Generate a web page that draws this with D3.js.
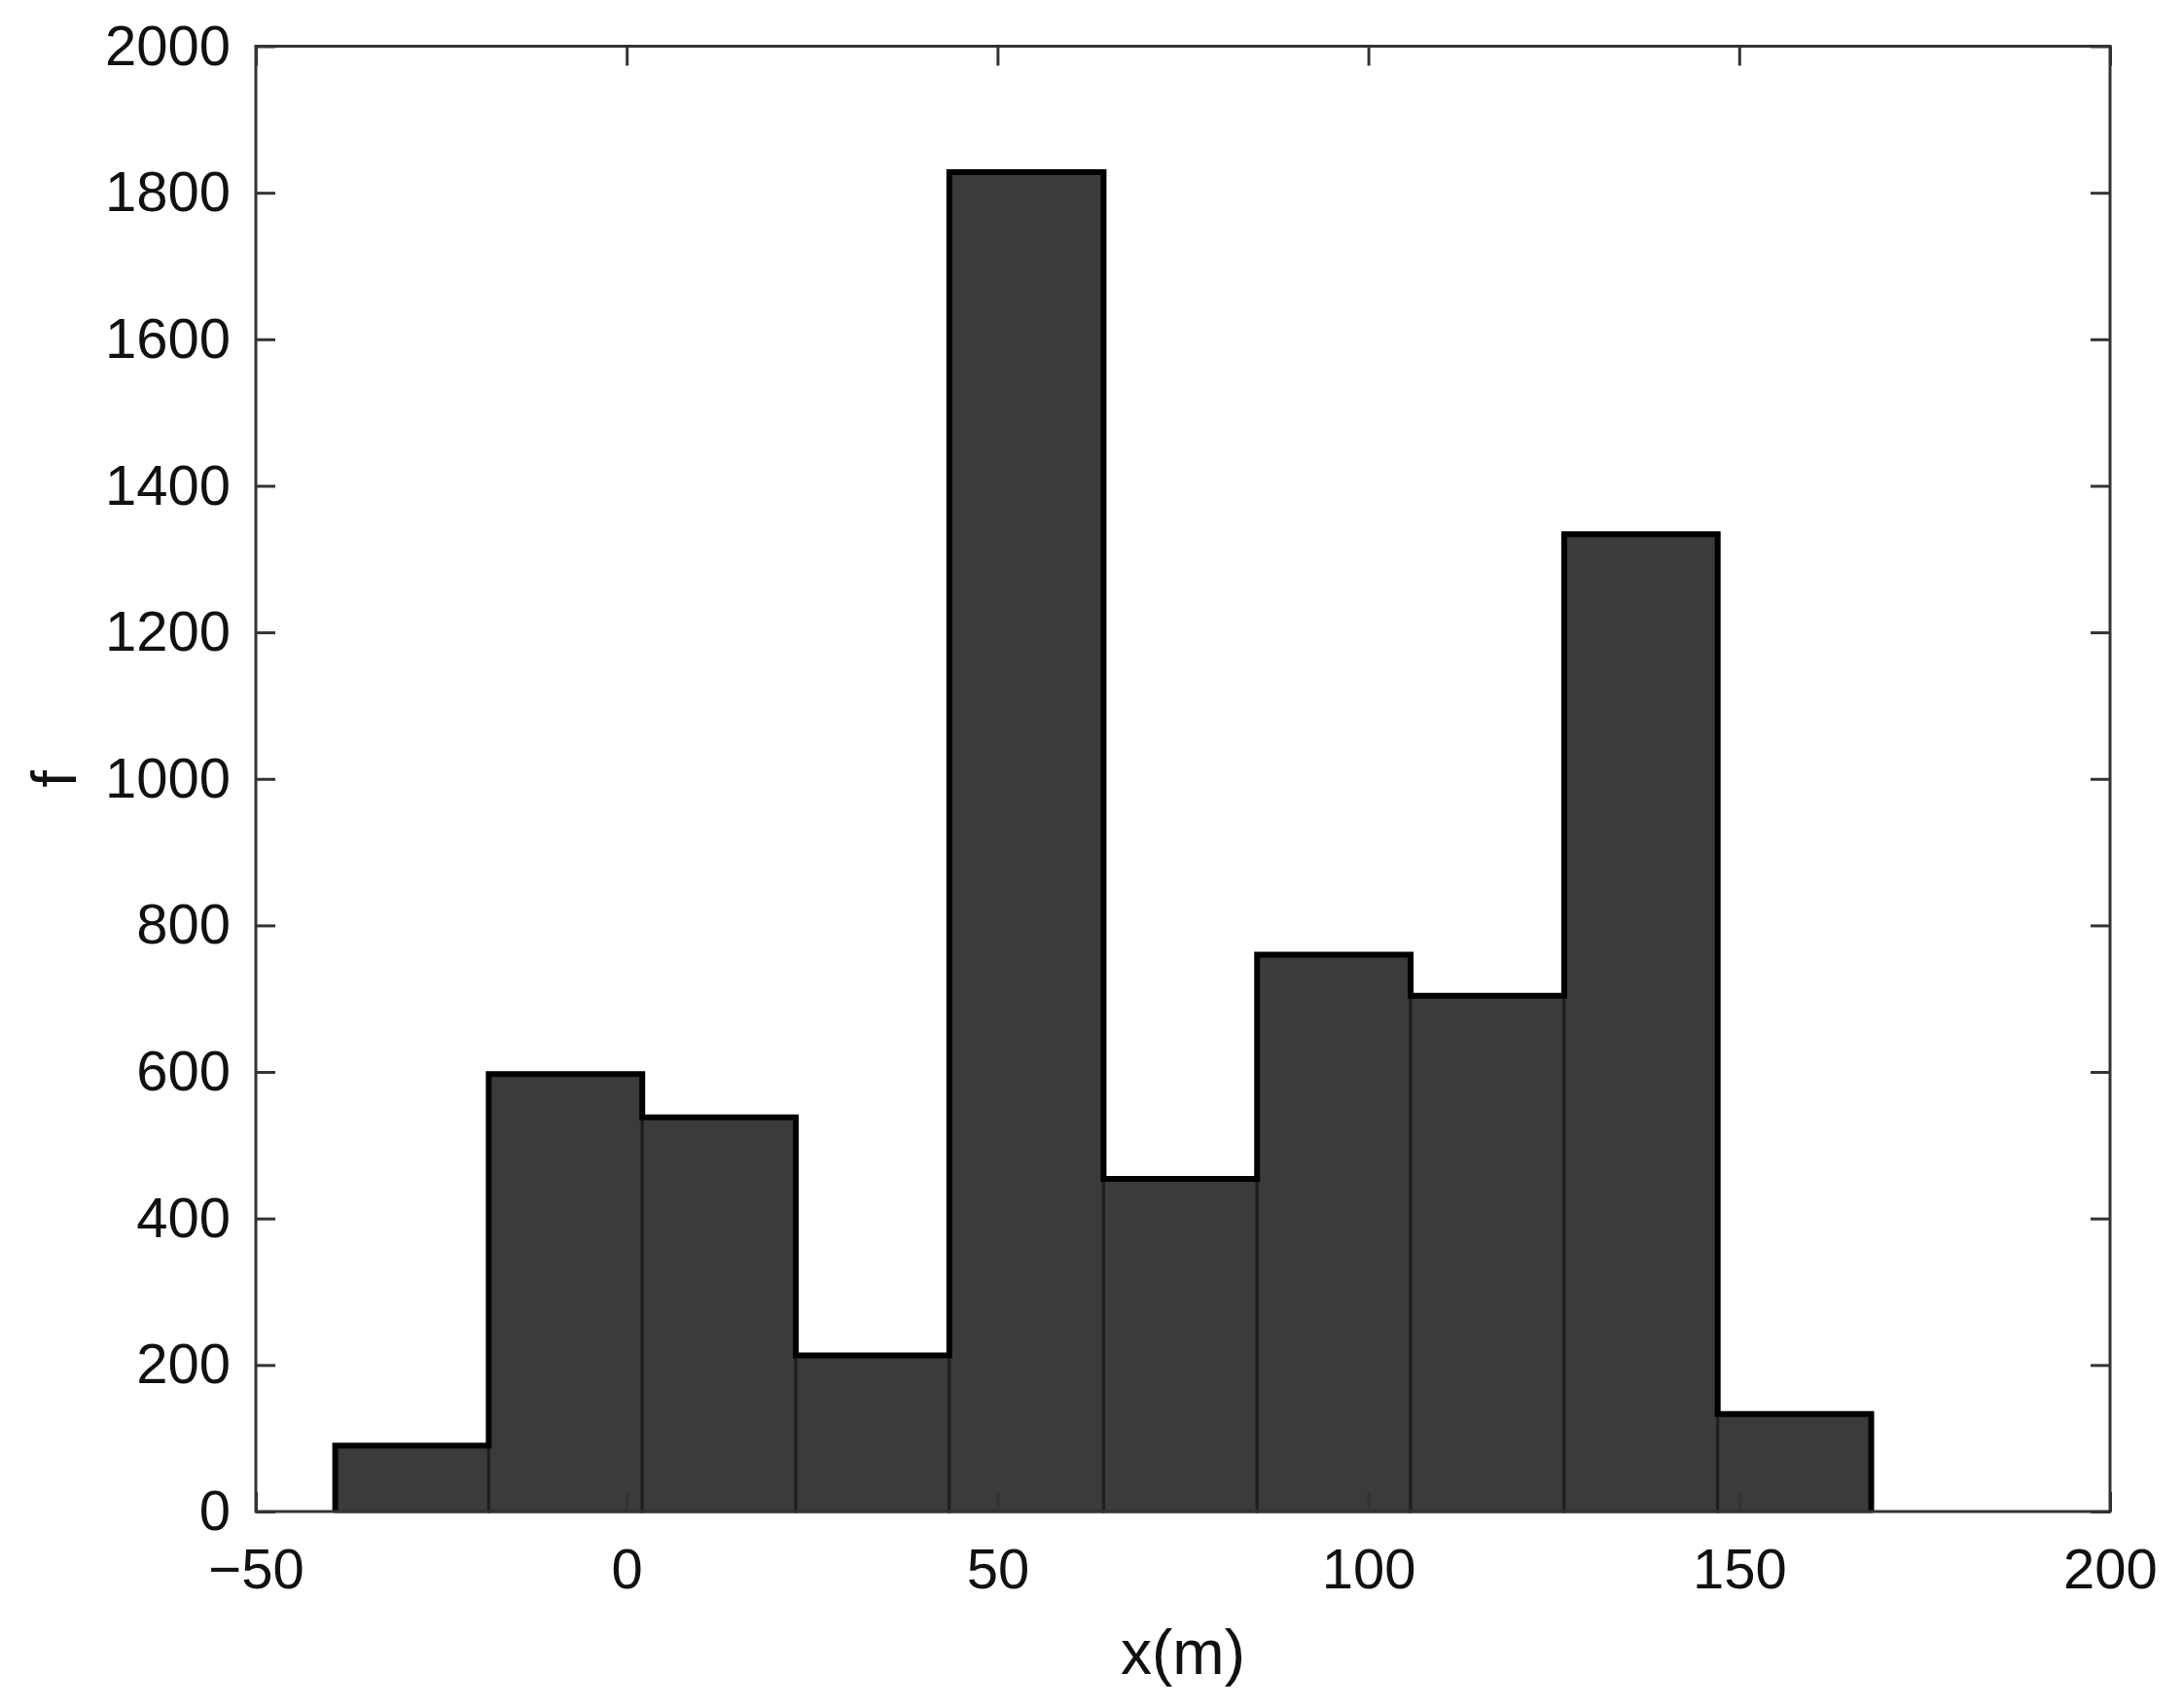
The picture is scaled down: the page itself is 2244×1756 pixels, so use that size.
<!DOCTYPE html>
<html>
<head>
<meta charset="utf-8">
<script src="https://cdn.jsdelivr.net/npm/d3@7"></script>
<style>
    body { margin: 0; background: #fff; }
    text { font-family: "Liberation Sans", Arial, sans-serif; fill: #111; }
</style>
</head>
<body>
<svg width="2244" height="1756"></svg>
<script>
// histogram bins
const binEdges = [-39.3, -18.6, 2.1, 22.8, 43.5, 64.3, 85.0, 105.7, 126.4, 147.1, 167.8];
const counts = [90, 597, 538, 213, 1828, 454, 760, 704, 1334, 133];
const xTicks = [-50, 0, 50, 100, 150, 200];
const yTicks = [0, 200, 400, 600, 800, 1000, 1200, 1400, 1600, 1800, 2000];
const xTitle = 'x(m)';
const yTitle = 'f';

let svg = d3.select('svg');
let side = {width: +svg.attr('width'), height: +svg.attr('height')};
let margin = {left: 263, right: 75, top: 47.5, bottom: 202};

svg.append('rect').attr('width', side.width).attr('height', side.height).attr('fill', '#fff');

let x = d3.scaleLinear().domain([-50, 200]).range([margin.left, side.width - margin.right]);
let y = d3.scaleLinear().domain([0, 2000]).range([side.height - margin.bottom, margin.top]);

let bins = counts.map((c, i) => ({x0: binEdges[i], x1: binEdges[i + 1], n: c}));

// bars
svg.append('g')
    .selectAll('rect')
    .data(bins)
    .enter()
    .append('rect')
    .attr('x', d => x(d.x0))
    .attr('y', d => y(d.n))
    .attr('width', d => x(d.x1) - x(d.x0))
    .attr('height', d => y(0) - y(d.n))
    .attr('fill', '#3b3b3b')
    .attr('stroke', '#1e1e1e')
    .attr('stroke-width', 3);

// outer outline of the histogram
let pts = [[binEdges[0], 0]];
bins.forEach(d => { pts.push([d.x0, d.n]); pts.push([d.x1, d.n]); });
pts.push([binEdges[binEdges.length - 1], 0]);
svg.append('path')
    .attr('d', d3.line().x(p => x(p[0])).y(p => y(p[1]))(pts))
    .attr('fill', 'none')
    .attr('stroke', '#000')
    .attr('stroke-width', 6);

// axes box with inward ticks on all sides
let fmt = d3.format('');
let axStyle = g => {
    g.select('.domain').remove();
    g.selectAll('.tick line').attr('stroke', '#333').attr('stroke-width', 3);
    g.selectAll('.tick text').style('font-size', '58px').attr('fill', '#111');
};

svg.append('g')
    .attr('transform', `translate(0,${y(0)})`)
    .call(d3.axisBottom(x).tickValues(xTicks).tickSize(-20).tickPadding(38).tickFormat(fmt))
    .call(axStyle);
svg.append('g')
    .attr('transform', `translate(0,${y(2000)})`)
    .call(d3.axisTop(x).tickValues(xTicks).tickSize(-20).tickFormat(''))
    .call(axStyle);
svg.append('g')
    .attr('transform', `translate(${x(-50)},0)`)
    .call(d3.axisLeft(y).tickValues(yTicks).tickSize(-20).tickPadding(26).tickFormat(fmt))
    .call(axStyle);
svg.append('g')
    .attr('transform', `translate(${x(200)},0)`)
    .call(d3.axisRight(y).tickValues(yTicks).tickSize(-20).tickFormat(''))
    .call(axStyle);

svg.append('rect')
    .attr('x', x(-50)).attr('y', y(2000))
    .attr('width', x(200) - x(-50)).attr('height', y(0) - y(2000))
    .attr('fill', 'none').attr('stroke', '#333').attr('stroke-width', 3);

// titles
svg.append('text')
    .attr('x', (x(-50) + x(200)) / 2)
    .attr('y', 1721)
    .attr('text-anchor', 'middle')
    .style('font-size', '64px')
    .text(xTitle);
svg.append('text')
    .attr('transform', `translate(78,${(y(0) + y(2000)) / 2}) rotate(-90)`)
    .attr('text-anchor', 'middle')
    .style('font-size', '64px')
    .text(yTitle);
</script>
</body>
</html>
